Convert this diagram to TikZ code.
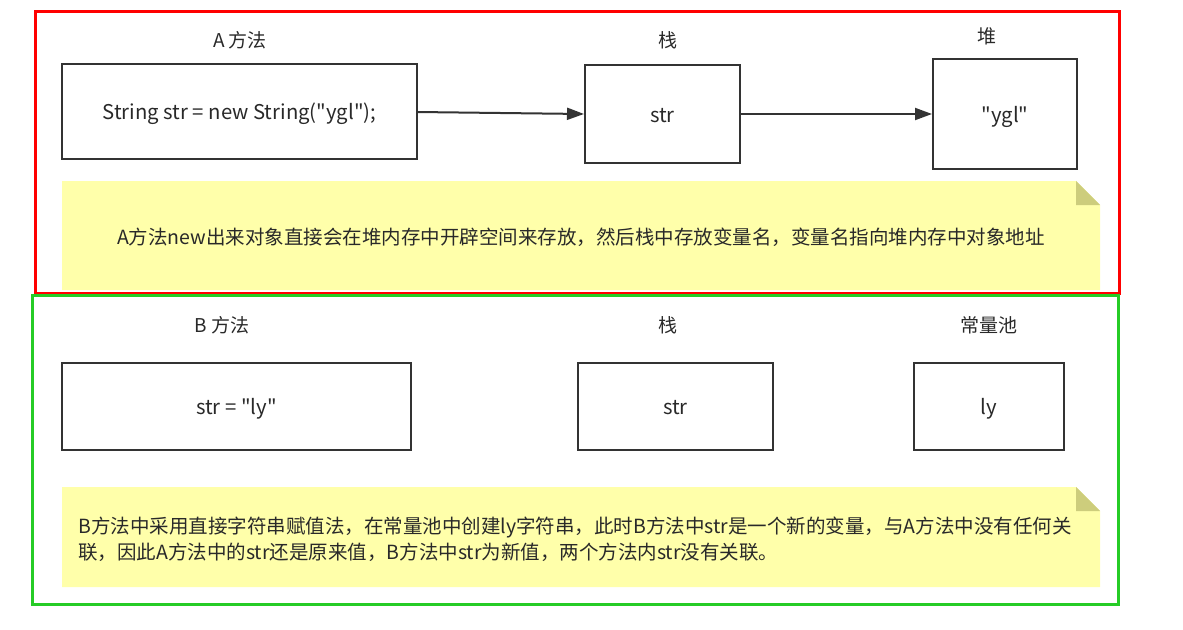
\documentclass[tikz,border=0pt]{standalone}
\usepackage{fontspec}
\setmainfont{Noto Sans CJK SC}
\usetikzlibrary{arrows.meta}
\definecolor{boxline}{HTML}{333333}
\definecolor{noteyellow}{HTML}{FFFFAA}
\definecolor{notefold}{HTML}{CDCD7C}
\definecolor{frameRed}{HTML}{FF0000}
\definecolor{frameGreen}{HTML}{26CC26}
\newcommand{\dq}{\textquotedbl}
\tikzset{
  box/.style={draw=boxline, line width=2pt, fill=white, inner sep=0pt, text height=19pt, text depth=3pt, font=\fontsize{20.3}{22}\selectfont, text=boxline!80!black},
  lbl/.style={inner sep=0pt, font=\fontsize{19}{22}\selectfont, text=boxline!80!black},
  notetext/.style={inner sep=0pt, font=\fontsize{19.5}{26}\selectfont, text=boxline!80!black, align=left},
  conn/.style={draw=boxline, line width=2pt, -{Triangle[length=17pt,width=12pt]}},
  note/.style={fill=noteyellow},
  fold/.style={fill=notefold},
}
\begin{document}
\begin{tikzpicture}[x=1pt,y=-1pt]
\useasboundingbox (0,0) rectangle (1183,629);
% frames
\draw[frameRed, line width=3pt] (35,11) rectangle (1119,293);
% ---- A part
\node[lbl] (la) at (240,40) {A 方法};
\node[lbl] (ls1) at (668,40) {栈};
\node[lbl] (lh) at (987,36) {堆};
\node[box, minimum width=355pt, minimum height=95pt] (a) at (239.5,111.5) {String str = new String(\dq ygl\dq);};
\node[box, minimum width=155pt, minimum height=98pt] (s1) at (662.5,114) {str};
\node[box, minimum width=144pt, minimum height=110pt] (h) at (1005,114) {\dq ygl\dq};
\draw[conn] (417,112) -- (s1.west);
\draw[conn] (s1.east) -- (h.west);
\fill[note] (62,181) -- (1076,181) -- (1100,205) -- (1100,290) -- (62,290) -- cycle;
\fill[fold] (1076,181) -- (1100,205) -- (1076,205) -- cycle;
\node[notetext] (na) at (581,237) {A方法new出来对象直接会在堆内存中开辟空间来存放，然后栈中存放变量名，变量名指向堆内存中对象地址};
% ---- B part
\draw[frameGreen, line width=3pt] (32,295) rectangle (1118,604);
\node[lbl] (lb) at (222,325) {B 方法};
\node[lbl] (ls2) at (668,325) {栈};
\node[lbl] (lc) at (989,325) {常量池};
\node[box, minimum width=349pt, minimum height=87pt] (b) at (236.5,406.5) {str = \dq ly\dq};
\node[box, minimum width=195pt, minimum height=87pt] (s2) at (675.5,406.5) {str};
\node[box, minimum width=150pt, minimum height=87pt] (c) at (989,406.5) {ly};
\fill[note] (62,487) -- (1076,487) -- (1100,511) -- (1100,587) -- (62,587) -- cycle;
\fill[fold] (1076,487) -- (1100,511) -- (1076,511) -- cycle;
\node[notetext, anchor=west] (nb) at (78,539) {B方法中采用直接字符串赋值法，在常量池中创建ly字符串，此时B方法中str是一个新的变量，与A方法中没有任何关\\联，因此A方法中的str还是原来值，B方法中str为新值，两个方法内str没有关联。};
\end{tikzpicture}
\end{document}
